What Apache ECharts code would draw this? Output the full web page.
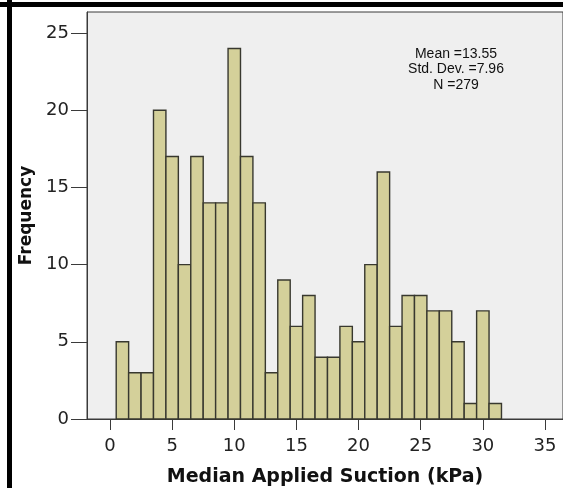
<!DOCTYPE html>
<html>
<head>
<meta charset="utf-8">
<script src="https://cdn.jsdelivr.net/npm/echarts@6/dist/echarts.min.js"></script>
<style>
  html, body { margin: 0; padding: 0; background: #ffffff; }
  #chart { width: 563px; height: 488px; }
</style>
</head>
<body>
<div id="chart"></div>
<script>
// Histogram of median applied suction, 1 kPa bins centred on whole numbers
const binCenters = [1, 2, 3, 4, 5, 6, 7, 8, 9, 10, 11, 12, 13, 14, 15, 16,
                    17, 18, 19, 20, 21, 22, 23, 24, 25, 26, 27, 28, 29, 30, 31];
const frequencies = [5, 3, 3, 20, 17, 10, 17, 14, 14, 24, 17, 14, 3, 9, 6, 8,
                     4, 4, 6, 5, 10, 16, 6, 8, 8, 7, 7, 5, 1, 7, 1];
const binWidth = 1;
const xTicks = [0, 5, 10, 15, 20, 25, 30, 35];
const yTicks = [0, 5, 10, 15, 20, 25];
const statsLines = ['Mean =13.55', 'Std. Dev. =7.96', 'N =279'];
const xTitle = 'Median Applied Suction (kPa)';
const yTitle = 'Frequency';

const chart = echarts.init(document.getElementById('chart'), null, { renderer: 'canvas' });

const histData = binCenters.map((c, i) => [c, frequencies[i]]);
const SANS = '"Liberation Sans", Arial, sans-serif';
const WIDE = '"DejaVu Sans", sans-serif';

const option = {
  animation: false,
  backgroundColor: '#ffffff',
  grid: {
    left: 87, right: 0, top: 12, bottom: 69,
    outerBoundsMode: 'none',
    containLabel: false,
    show: true, backgroundColor: '#efefef', borderColor: '#3a3a3a', borderWidth: 1
  },
  xAxis: {
    type: 'value',
    min: -1.85, max: 36.45,
    name: xTitle,
    nameLocation: 'middle',
    nameGap: 49,
    nameTextStyle: { fontFamily: WIDE, fontWeight: 'bold', fontSize: 19, color: '#111' },
    axisLine: { show: true, onZero: false, lineStyle: { color: '#3a3a3a', width: 1 } },
    axisTick: { show: true, length: 11, customValues: xTicks, lineStyle: { color: '#3a3a3a' } },
    axisLabel: { customValues: xTicks, margin: 18, fontFamily: WIDE, fontSize: 18, color: '#222' },
    splitLine: { show: false }
  },
  yAxis: {
    type: 'value',
    min: 0, max: 26.36,
    name: yTitle,
    nameLocation: 'middle',
    nameGap: 52,
    nameTextStyle: { fontFamily: WIDE, fontWeight: 'bold', fontSize: 17, color: '#111' },
    axisLine: { show: true, onZero: false, lineStyle: { color: '#3a3a3a', width: 1 } },
    axisTick: { show: true, length: 16, customValues: yTicks, lineStyle: { color: '#3a3a3a' } },
    axisLabel: { customValues: yTicks, margin: 18, fontFamily: WIDE, fontSize: 18, color: '#222' },
    splitLine: { show: false }
  },
  series: [{
    type: 'custom',
    data: histData,
    encode: { x: 0, y: 1 },
    renderItem: function (params, api) {
      const c = api.value(0);
      const v = api.value(1);
      const p0 = api.coord([c - binWidth / 2, v]);
      const p1 = api.coord([c + binWidth / 2, 0]);
      return {
        type: 'rect',
        shape: { x: p0[0], y: p0[1], width: p1[0] - p0[0], height: p1[1] - p0[1] },
        style: { fill: '#d4d09a', stroke: '#38382f', lineWidth: 1.4 }
      };
    }
  }],
  graphic: [
    // outer frame
    { type: 'rect', shape: { x: 0, y: 2, width: 563, height: 5 }, style: { fill: '#000' }, z: 10 },
    { type: 'rect', shape: { x: 7, y: 0, width: 5, height: 488 }, style: { fill: '#000' }, z: 10 },
    {
      type: 'text', x: 456, y: 46, z: 10,
      style: {
        text: statsLines.join('\n'), fontFamily: SANS, fontSize: 14, lineHeight: 15.5,
        align: 'center', verticalAlign: 'top', fill: '#111'
      }
    }
  ]
};

chart.setOption(option);
</script>
</body>
</html>
